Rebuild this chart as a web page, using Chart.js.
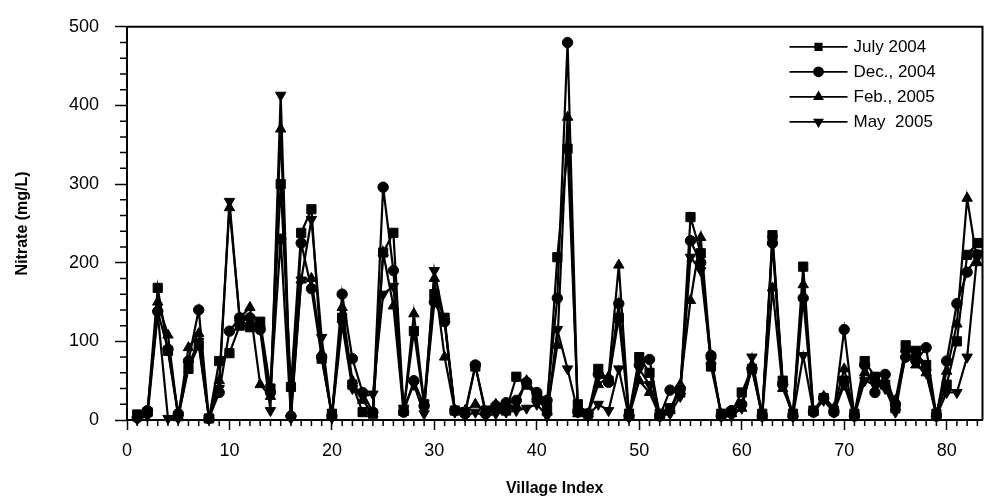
<!DOCTYPE html>
<html>
<head>
<meta charset="utf-8">
<title>Nitrate by village</title>
<script src="https://cdn.jsdelivr.net/npm/chart.js"></script>
<style>
  html, body { margin: 0; padding: 0; background: #fff; }
  #wrap { width: 990px; height: 503px; }
</style>
</head>
<body>
<div id="wrap"><canvas id="nitrateChart" width="990" height="503"></canvas></div>
<script>
// village index and nitrate (mg/L) per sampling campaign
var villages = [1,2,3,4,5,6,7,8,9,10,11,12,13,14,15,16,17,18,19,20,
  21,22,23,24,25,26,27,28,29,30,31,32,33,34,35,36,37,38,39,40,
  41,42,43,44,45,46,47,48,49,50,51,52,53,54,55,56,57,58,59,60,
  61,62,63,64,65,66,67,68,69,70,71,72,73,74,75,76,77,78,79,80,81,82,83];

var july2004 = [7,10,168,88,5,65,95,2,75,85, 120,118,125,40,300,42,238,268,78,8,
  130,45,10,8,213,238,12,113,20,160, 130,12,10,68,12,15,12,55,45,30,
  15,207,345,20,8,65,50,130,8,80, 60,8,15,35,258,212,68,8,10,35,
  65,8,235,50,8,195,12,28,12,50, 8,75,55,45,15,95,85,70,8,45, 100,210,225];

var dec2004 = [3,12,138,90,8,75,140,2,35,113, 130,130,115,35,230,5,225,167,80,5,
  160,78,35,10,296,190,10,50,18,150, 125,12,8,70,8,18,22,25,48,35,
  25,155,480,10,8,58,48,148,5,70, 77,5,38,40,228,200,82,5,12,20,
  65,5,225,45,5,155,10,28,10,115, 5,70,35,58,20,80,75,92,5,75, 148,188,210];

var feb2005 = [3,10,150,108,3,92,110,2,50,270, 130,143,45,30,370,8,178,180,85,5,
  143,50,25,8,213,145,10,135,22,180, 80,12,12,20,10,20,18,18,50,30,
  10,95,385,8,8,45,55,197,5,50, 35,5,12,45,152,232,75,8,8,15,
  70,5,168,40,8,172,10,30,15,65, 8,60,50,45,25,90,70,60,8,62, 122,282,200];

var may2005 = [1,5,135,2,2,70,100,2,40,278, 128,128,115,12,413,2,178,255,105,3,
  122,40,30,33,160,170,15,45,8,190, 125,10,5,10,5,8,10,12,15,20,
  5,115,65,10,5,20,12,65,3,65, 45,5,8,30,207,190,75,5,5,15,
  80,5,230,45,5,82,10,25,10,45, 5,50,45,40,10,85,90,60,5,35, 35,80,212];

var seriesNames = ['July 2004', 'Dec., 2004', 'Feb., 2005', 'May  2005'];
var yTicks = [0, 100, 200, 300, 400, 500];
var xTicks = [0, 10, 20, 30, 40, 50, 60, 70, 80];

Chart.defaults.font.family = '"Liberation Sans", Arial, sans-serif';
Chart.defaults.color = '#000';

function toPoints(values) {
  return villages.map(function (v, i) { return { x: v, y: values[i] }; });
}

function makeSet(label, values, style, rotation) {
  return {
    label: label,
    data: toPoints(values),
    borderColor: '#000',
    backgroundColor: '#000',
    borderWidth: 2.2,
    pointStyle: style,
    rotation: rotation,
    pointRadius: style === 'rect' ? 6.5 : (style === 'circle' ? 5.2 : 6),
    pointBorderWidth: 1,
    tension: 0,
    clip: false
  };
}

// small ticks between the labelled ones, plus the top/right frame
var frameAndMinorTicks = {
  id: 'frameAndMinorTicks',
  afterDraw: function (chart) {
    var ctx = chart.ctx, area = chart.chartArea;
    var xs = chart.scales.x, ys = chart.scales.y;
    ctx.save();
    ctx.strokeStyle = '#000';
    ctx.lineWidth = 1.5;
    ctx.beginPath();
    for (var v = 1; v <= 83; v++) {
      if (v % 10 === 0) continue;
      var px = xs.getPixelForValue(v);
      ctx.moveTo(px, area.bottom);
      ctx.lineTo(px, area.bottom + 6);
    }
    for (var w = 20; w < 500; w += 20) {
      if (w % 100 === 0) continue;
      var py = ys.getPixelForValue(w);
      ctx.moveTo(area.left, py);
      ctx.lineTo(area.left - 7, py);
    }
    ctx.stroke();
    ctx.lineWidth = 2;
    ctx.beginPath();
    ctx.moveTo(area.left, area.top);
    ctx.lineTo(area.right, area.top);
    ctx.lineTo(area.right, area.bottom);
    ctx.stroke();
    ctx.restore();
  }
};

// legend: line with the marker in the middle, text to the right
var lineLegend = {
  id: 'lineLegend',
  afterDraw: function (chart) {
    var ctx = chart.ctx, area = chart.chartArea;
    var x0 = area.right - 193, x1 = area.right - 135, tx = area.right - 129;
    ctx.save();
    ctx.font = '17px "Liberation Sans", Arial, sans-serif';
    ctx.textBaseline = 'middle';
    ctx.fillStyle = '#000';
    chart.data.datasets.forEach(function (ds, i) {
      var y = area.top + 20 + i * 25;
      ctx.strokeStyle = '#000';
      ctx.lineWidth = 1.8;
      ctx.beginPath();
      ctx.moveTo(x0, y);
      ctx.lineTo(x1, y);
      ctx.stroke();
      Chart.helpers.drawPoint(ctx, {
        pointStyle: ds.pointStyle,
        rotation: ds.rotation || 0,
        radius: 4.5,
        borderWidth: 1
      }, (x0 + x1) / 2, y);
      ctx.fillText(ds.label, tx, y + 1);
    });
    ctx.restore();
  }
};

new Chart(document.getElementById('nitrateChart'), {
  type: 'line',
  data: {
    datasets: [
      makeSet(seriesNames[0], july2004, 'rect', 0),
      makeSet(seriesNames[1], dec2004, 'circle', 0),
      makeSet(seriesNames[2], feb2005, 'triangle', 0),
      makeSet(seriesNames[3], may2005, 'triangle', 180)
    ]
  },
  options: {
    responsive: false,
    animation: false,
    layout: { padding: { left: 0, right: 4, top: 18, bottom: 0 } },
    plugins: {
      legend: { display: false },
      tooltip: { enabled: false }
    },
    scales: {
      x: {
        type: 'linear',
        min: 0,
        max: 83.5,
        afterFit: function (scale) { scale.height = 83; },
        afterBuildTicks: function (scale) {
          scale.ticks = xTicks.map(function (v) { return { value: v }; });
        },
        ticks: { font: { size: 18 }, padding: 10, maxRotation: 0, includeBounds: false },
        grid: { drawOnChartArea: false, tickLength: 10, tickWidth: 1.5, tickColor: '#000' },
        border: { color: '#000', width: 2 },
        title: {
          display: true,
          text: 'Village Index',
          font: { size: 16, weight: 'bold' },
          padding: { top: 0, bottom: 5 }
        }
      },
      y: {
        min: 0,
        max: 500,
        afterFit: function (scale) { scale.width = 127; },
        afterBuildTicks: function (scale) {
          scale.ticks = yTicks.map(function (v) { return { value: v }; });
        },
        ticks: { font: { size: 18 }, padding: 16 },
        grid: { drawOnChartArea: false, tickLength: 12, tickWidth: 1.5, tickColor: '#000' },
        border: { color: '#000', width: 2 },
        title: {
          display: true,
          text: 'Nitrate (mg/L)',
          font: { size: 16, weight: 'bold' },
          padding: { top: 13, bottom: 0 }
        }
      }
    }
  },
  plugins: [frameAndMinorTicks, lineLegend]
});
</script>
</body>
</html>
